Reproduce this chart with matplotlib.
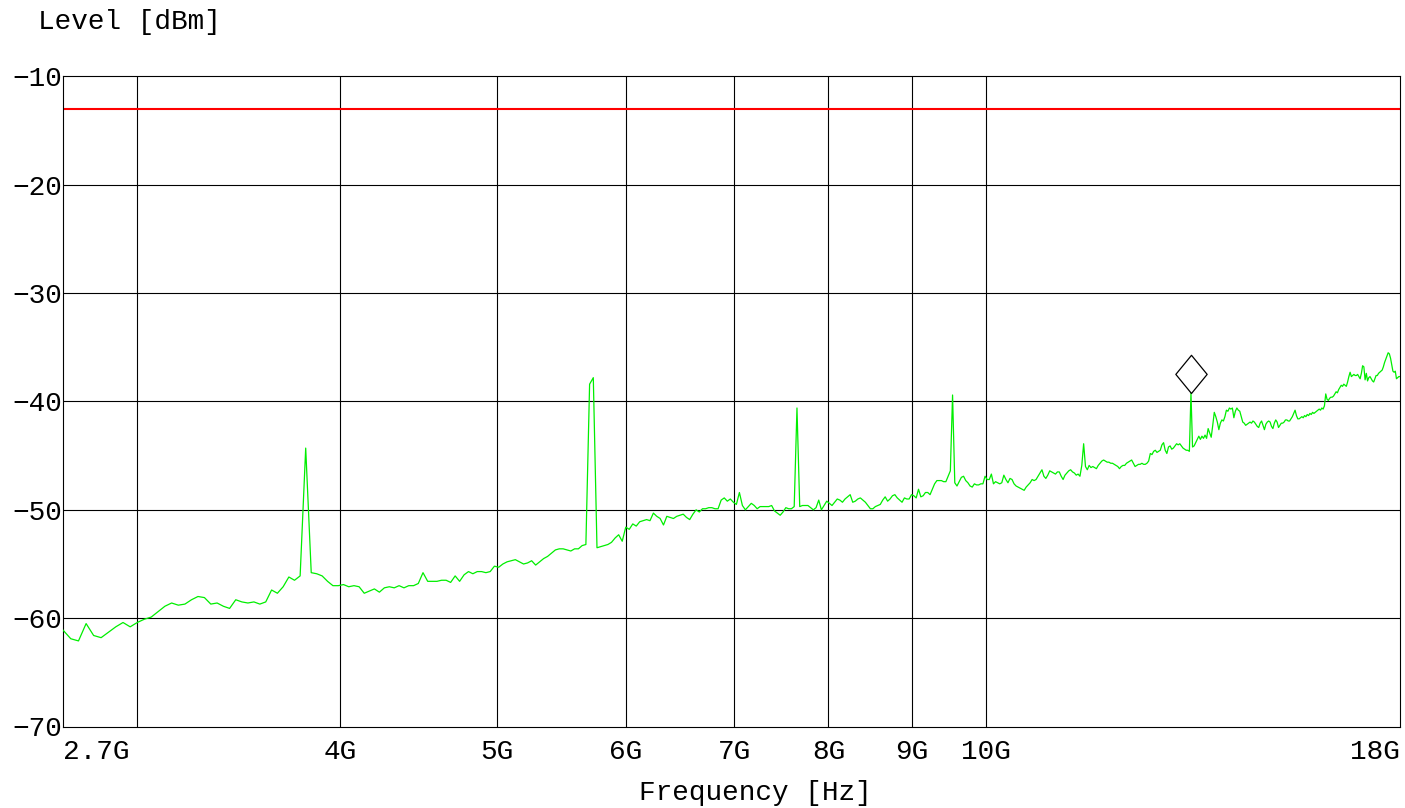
import numpy as np
import matplotlib
matplotlib.use("Agg")
import matplotlib.pyplot as plt
from matplotlib.path import Path
from matplotlib.ticker import NullLocator

plt.rcParams['font.family'] = ['Liberation Mono', 'DejaVu Sans']

# ---------------- data ----------------
sweep_start_hz = 2.7e9
sweep_stop_hz = 18.0e9
sweep_points = 511

level_dbm = [
    -61.1, -61.9, -62.1, -60.5, -61.6, -61.8, -61.3, -60.8, -60.4, -60.8, -60.4,
    -60.1, -59.9, -59.4, -58.9, -58.6, -58.8, -58.7, -58.3, -58.0, -58.1,
    -58.7, -58.6, -58.9, -59.1, -58.3, -58.5, -58.6, -58.5, -58.7, -58.5,
    -57.4, -57.7, -57.1, -56.2, -56.5, -56.1, -44.3, -55.8, -55.9, -56.1,
    -56.6, -57.0, -57.0, -56.9, -57.1, -57.0, -57.1, -57.7, -57.5, -57.3,
    -57.6, -57.2, -57.1, -57.2, -57.0, -57.2, -57.0, -57.0, -56.8, -55.8,
    -56.6, -56.6, -56.6, -56.5, -56.5, -56.7, -56.1, -56.6, -56.0, -55.7,
    -55.9, -55.7, -55.7, -55.8, -55.7, -55.2, -55.3, -55.0, -54.8, -54.7,
    -54.6, -54.8, -55.0, -54.9, -54.7, -55.1, -54.8, -54.5, -54.3, -54.0,
    -53.7, -53.6, -53.6, -53.7, -53.8, -53.6, -53.6, -53.3, -53.2, -38.4,
    -37.8, -53.5, -53.4, -53.3, -53.2, -53.0, -52.6, -52.3, -52.9, -51.6,
    -51.8, -51.3, -51.5, -51.1, -51.0, -50.9, -51.0, -50.3, -50.6, -50.8,
    -51.4, -50.6, -50.7, -50.8, -50.6, -50.5, -50.4, -50.7, -50.9, -50.4,
    -50.0, -50.2, -49.9, -49.9, -49.8, -49.8, -49.9, -49.9, -49.1, -48.9,
    -49.2, -49.0, -49.3, -49.5, -48.4, -49.6, -50.0, -49.7, -49.4, -49.6,
    -49.9, -49.7, -49.7, -49.7, -49.7, -49.6, -50.1, -50.3, -50.5, -50.2,
    -49.8, -49.9, -49.9, -49.7, -40.6, -49.7, -49.6, -49.6, -49.6, -49.8,
    -50.0, -49.8, -49.1, -50.0, -49.6, -49.2, -49.4, -49.6, -49.3, -49.0,
    -49.1, -49.3, -49.0, -48.8, -48.6, -49.3, -49.2, -49.0, -48.9, -49.1,
    -49.3, -49.6, -49.9, -49.9, -49.7, -49.6, -49.5, -49.1, -48.8, -49.2,
    -49.0, -48.7, -48.6, -48.9, -49.1, -49.3, -48.9, -49.0, -49.0, -48.6,
    -48.7, -48.9, -48.1, -48.8, -48.7, -48.4, -48.4, -48.6, -48.1, -47.6,
    -47.3, -47.3, -47.3, -47.4, -47.4, -46.9, -46.4, -39.4, -47.5, -47.8,
    -47.4, -47.0, -46.9, -47.3, -47.5, -47.8, -47.9, -47.6, -47.7, -47.7,
    -47.6, -47.6, -46.9, -47.2, -47.2, -46.7, -47.6, -47.4, -47.5, -47.6,
    -47.5, -46.8, -47.2, -47.5, -47.1, -47.2, -47.6, -47.8, -47.9, -48.0,
    -48.1, -48.2, -47.9, -47.7, -47.5, -47.2, -47.3, -47.2, -46.9, -46.6,
    -46.3, -46.9, -47.1, -46.8, -46.4, -46.5, -46.6, -46.7, -46.5, -46.5,
    -46.9, -47.2, -46.8, -46.6, -46.4, -46.3, -46.5, -46.6, -46.8, -46.7,
    -46.9, -45.9, -43.9, -46.0, -46.3, -45.9, -46.1, -46.0, -46.1, -46.2,
    -45.9, -45.7, -45.5, -45.4, -45.5, -45.6, -45.6, -45.7, -45.7, -45.8,
    -45.9, -46.0, -46.2, -46.0, -45.9, -45.9, -45.7, -45.6, -45.5, -45.4,
    -45.7, -46.0, -45.9, -45.8, -45.8, -45.7, -45.8, -45.8, -45.7, -45.5,
    -44.8, -44.9, -44.6, -44.5, -44.7, -44.6, -44.5, -44.0, -43.8, -44.5,
    -44.8, -44.2, -44.1, -44.4, -44.3, -44.1, -43.9, -44.0, -43.9, -44.1,
    -44.3, -44.4, -44.5, -44.5, -44.6, -39.2, -44.2, -44.1, -43.8, -43.5,
    -43.2, -43.5, -43.2, -43.4, -43.1, -43.4, -42.5, -42.9, -43.3, -42.2,
    -41.0, -41.4, -41.9, -42.6, -42.0, -41.7, -41.8, -41.4, -40.8, -40.9,
    -40.6, -40.7, -40.6, -41.5, -40.9, -40.6, -40.8, -40.9, -41.4, -41.9,
    -42.0, -42.2, -42.1, -42.0, -41.9, -42.0, -41.8, -41.9, -42.1, -42.3,
    -42.4, -42.0, -41.8, -42.2, -42.6, -42.1, -41.9, -41.8, -41.9, -42.3,
    -42.5, -42.0, -41.7, -41.9, -42.4, -42.2, -42.0, -42.0, -41.9, -41.7,
    -41.7, -41.8, -41.8, -41.6, -41.4, -41.1, -40.8, -41.3, -41.6, -41.6,
    -41.5, -41.4, -41.5, -41.3, -41.4, -41.2, -41.3, -41.1, -41.2, -41.0,
    -41.1, -41.0, -40.9, -40.8, -40.7, -40.8, -40.6, -40.7, -40.4, -39.3,
    -39.8, -39.9, -39.7, -39.6, -39.6, -39.5, -39.3, -39.1, -39.2, -38.9,
    -38.7, -38.5, -38.6, -38.4, -38.5, -38.6, -38.2, -37.7, -37.3, -37.7,
    -37.6, -37.5, -37.6, -37.6, -37.5, -37.7, -37.9, -37.4, -36.7, -36.8,
    -38.0, -37.4, -38.1, -37.8, -37.7, -37.9, -38.1, -38.2, -37.9, -37.6,
    -37.6, -37.4, -37.3, -37.2, -37.1, -36.8, -36.4, -36.1, -35.8, -35.5,
    -35.6, -36.0, -36.6, -37.2, -37.3, -37.2, -37.9, -37.8, -37.7, -37.7,
]

limit_dbm = -13.0
marker_freq_hz = 13.38e9
marker_level_dbm = -39.2

ytick_values = [-70, -60, -50, -40, -30, -20, -10]
ytick_labels = ["\u221270", "\u221260", "\u221250", "\u221240", "\u221230", "\u221220", "\u221210"]
xtick_freqs = [2.7e9, 4e9, 5e9, 6e9, 7e9, 8e9, 9e9, 10e9, 18e9]
xtick_labels = ["2.7G", "4G", "5G", "6G", "7G", "8G", "9G", "10G", "18G"]
xgrid_freqs = [3e9, 4e9, 5e9, 6e9, 7e9, 8e9, 9e9, 10e9]
ygrid_levels = [-60, -50, -40, -30, -20]

freq_hz = np.linspace(sweep_start_hz, sweep_stop_hz, sweep_points)

# ---------------- figure ----------------
W, H = 1405, 808
FS = 20
fig = plt.figure(figsize=(W / 100, H / 100), dpi=100)
left, right, top, bottom = 63, 1400, 76.5, 726.5
ax = fig.add_axes([left / W, 1 - bottom / H, (right - left) / W, (bottom - top) / H])

ax.set_xscale('log')
ax.set_xlim(sweep_start_hz, sweep_stop_hz)
ax.set_ylim(-70, -10)

for g in xgrid_freqs:
    ax.axvline(g, color='black', lw=0.8, zorder=1)
for g in ygrid_levels:
    ax.axhline(g, color='black', lw=0.8, zorder=1)

ax.axhline(limit_dbm, color='#ff0000', lw=1.5, zorder=2)

ax.plot(freq_hz, level_dbm, color='#00ee00', lw=0.9, zorder=3)

# marker: diamond with bottom tip at the marked point
diamond = Path([(0, 0), (0.41, 0.5), (0, 1), (-0.41, 0.5), (0, 0)],
               [Path.MOVETO, Path.LINETO, Path.LINETO, Path.LINETO, Path.CLOSEPOLY])
ax.plot([marker_freq_hz], [marker_level_dbm], marker=diamond, ms=55,
        mfc='white', mec='black', mew=0.9, ls='none', zorder=4)

ax.xaxis.set_minor_locator(NullLocator())
ax.set_xticks(xtick_freqs)
ax.set_xticklabels(xtick_labels)
ax.set_yticks(ytick_values)
ax.set_yticklabels(ytick_labels)
ax.tick_params(axis='both', length=0, labelsize=FS, colors='black')
ax.tick_params(axis='y', pad=0.5)
ax.tick_params(axis='x', pad=9)
xl = ax.get_xticklabels()
xl[0].set_horizontalalignment('left')
xl[-1].set_horizontalalignment('right')

for s in ax.spines.values():
    s.set_linewidth(0.8)
    s.set_color('black')

fig.text(38 / W, 1 - 22 / H, "Level [dBm]", ha='left', va='center', fontsize=FS)
fig.text(755 / W, 1 - 793 / H, "Frequency [Hz]", ha='center', va='center', fontsize=FS)

fig.savefig("out.png", dpi=100, facecolor='white')
